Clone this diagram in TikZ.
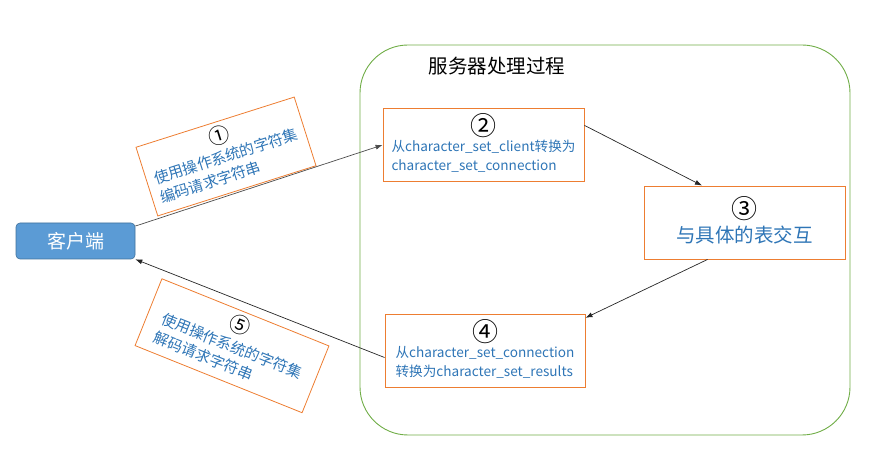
\documentclass[tikz,border=0pt]{standalone}
\usepackage{fontspec}
\setmainfont{Noto Sans CJK SC}
\usetikzlibrary{positioning,arrows.meta,calc}
\definecolor{boxorange}{RGB}{237,125,49}
\definecolor{textblue}{RGB}{46,117,182}
\definecolor{clientblue}{RGB}{91,155,213}
\definecolor{clientedge}{RGB}{65,113,156}
\definecolor{servergreen}{RGB}{112,173,71}
\newcommand{\numline}[2]{\multicolumn{1}{@{}c@{}}{\fontsize{#1}{#1}\selectfont\textcolor{black}{#2}}}

\begin{document}
\begin{tikzpicture}[x=1pt,y=-1pt,
  stepbox/.style={draw=boxorange,line width=0.9pt,text=textblue,inner sep=0pt,
    minimum width=201pt,minimum height=73pt,font=\fontsize{13.6}{19}\selectfont},
  notebox/.style={draw=boxorange,line width=0.8pt,text=textblue,inner sep=0pt,
    minimum width=166pt,minimum height=72pt,font=\fontsize{15}{20}\selectfont},
  flow/.style={-{Latex[length=7pt,width=5pt]},black!85,line width=0.7pt}]
\useasboundingbox (0,0) rectangle (892,470);
% Server side
\node[draw=servergreen,line width=0.9pt,rounded corners=48pt,
  minimum width=490pt,minimum height=390pt] (server) at (605,240) {};
\node[font=\fontsize{19.5}{22}\selectfont] (title) at (497,66) {服务器处理过程};
\node[stepbox] (toconn) at (483.5,145) {\begin{tabular}{@{}l@{}}
  \numline{26}{②}\\[-3pt]
  从character\_set\_client转换为\\
  character\_set\_connection\end{tabular}};
\node[stepbox] (table) at (744.5,222.5) {\begin{tabular}{@{}c@{}}
  \numline{26}{③}\\[2pt]
  {\fontsize{19.5}{22}\selectfont 与具体的表交互}\end{tabular}};
\node[stepbox,minimum width=200pt] (toresult) at (485,350.5) {\begin{tabular}{@{}l@{}}
  \numline{26}{④}\\[-3pt]
  从character\_set\_connection\\
  转换为character\_set\_results\end{tabular}};

% Client side
\node[fill=clientblue,draw=clientedge,line width=0.6pt,rounded corners=4pt,
  minimum width=119pt,minimum height=36pt,text=white,
  font=\fontsize{19}{22}\selectfont] (client) at (75.5,241) {客户端};
\node[notebox,rotate=17.6] (encode) at (226,156.5) {\begin{tabular}{@{}l@{}}
  \numline{21}{①}\\[-1pt]
  使用操作系统的字符集\\
  编码请求字符串\end{tabular}};
\node[notebox,minimum width=180pt,rotate=-21.9] (decode) at (232,345.75) {\begin{tabular}{@{}l@{}}
  \numline{21}{⑤}\\[0pt]
  使用操作系统的字符集\\
  解码请求字符串\end{tabular}};

% Flow
\draw[flow,black!70] (client.14) -- (toconn.west);
\draw[flow] (toconn.11) -- (table.139);
\draw[flow] (table.225) -- (toresult.18);
\draw[flow] (toresult.184) -- (client.south east);
\end{tikzpicture}
\end{document}
